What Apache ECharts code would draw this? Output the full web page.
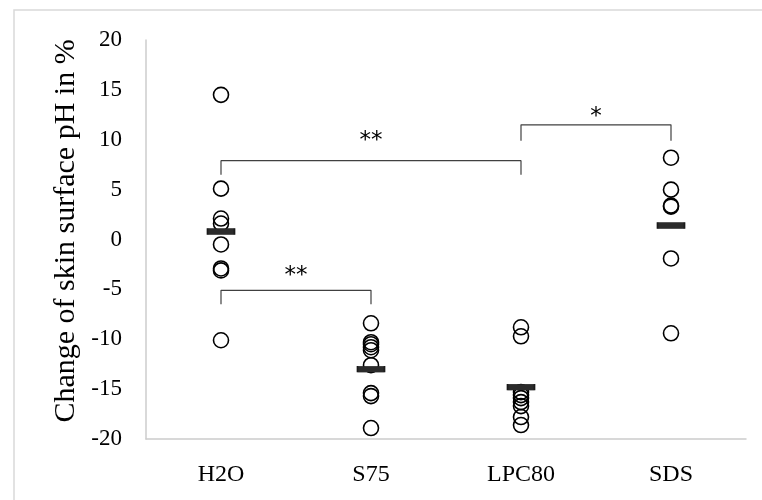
<!DOCTYPE html>
<html>
<head>
<meta charset="utf-8">
<script src="https://cdn.jsdelivr.net/npm/echarts@6/dist/echarts.min.js"></script>
<style>html,body{margin:0;padding:0;background:#fff;}#c{width:762px;height:500px;}</style>
</head>
<body>
<div id="c"></div>
<script>
var categories = ['H2O', 'S75', 'LPC80', 'SDS'];
var h2oValues = [14.5, 5.1, 2.1, 1.6, -0.5, -2.9, -3.1, -10.1];
var s75Values = [-8.4, -10.3, -10.5, -10.8, -11.1, -12.6, -15.4, -15.7, -18.9];
var lpc80Values = [-8.8, -9.7, -15.3, -15.6, -15.9, -16.3, -16.7, -17.8, -18.6];
var sdsValues = [8.2, 5.0, 3.4, 3.3, -1.9, -9.4];
var meanValues = [0.8, -13.0, -14.8, 1.4];
var yTicks = { min: -20, max: 20, interval: 5 };
var yTitle = 'Change of skin surface pH in %';
// significance brackets: [fromCategoryIndex, toCategoryIndex, level, tickBottom, label, labelLevel]
var brackets = [
  [0, 2, 7.9, 6.5, '**', 10.4],
  [0, 1, -5.1, -6.5, '**', -3.2],
  [2, 3, 11.5, 9.9, '*', 12.8]
];

var groups = [h2oValues, s75Values, lpc80Values, sdsValues];
var pointData = [];
groups.forEach(function (vals, i) {
  vals.forEach(function (v) { pointData.push([i, v]); });
});
var meanData = meanValues.map(function (v, i) { return [i, v]; });

var FONT = 'Liberation Serif';
var series = [
  {
    type: 'scatter', data: pointData, symbol: 'circle', symbolSize: 15,
    itemStyle: { color: 'rgba(0,0,0,0)', borderColor: '#000', borderWidth: 1.6, opacity: 1 },
    silent: true, z: 3
  },
  {
    type: 'scatter', data: meanData, symbol: 'rect', symbolSize: [27, 6],
    itemStyle: { color: '#2b2b2b', borderColor: '#1a1a1a', borderWidth: 0.8, opacity: 1 },
    silent: true, z: 4
  }
];
brackets.forEach(function (b) {
  series.push({
    type: 'line', xAxisIndex: 1, yAxisIndex: 0,
    data: [[b[0], b[3]], [b[0], b[2]], [b[1], b[2]], [b[1], b[3]]],
    symbol: 'none', lineStyle: { color: '#404040', width: 1.2 }, silent: true, z: 2
  });
  series.push({
    type: 'scatter', xAxisIndex: 1, yAxisIndex: 0,
    data: [[(b[0] + b[1]) / 2, b[5]]], symbolSize: 1,
    itemStyle: { color: 'rgba(0,0,0,0)' },
    label: { show: true, formatter: b[4], position: 'inside', offset: [0, 5],
      fontFamily: 'DejaVu Sans', fontSize: 23, color: '#000', opacity: 1 },
    emphasis: { disabled: true },
    silent: true, z: 5
  });
});

var chart = echarts.init(document.getElementById('c'), null, { renderer: 'canvas' });
chart.setOption({
  animation: false,
  backgroundColor: '#fff',
  graphic: [{
    type: 'rect', shape: { x: 14, y: 10, width: 800, height: 600 },
    style: { fill: 'none', stroke: '#d9d9d9', lineWidth: 1.5 }, silent: true
  }, {
    type: 'text', x: 66, y: 231, rotation: Math.PI / 2,
    style: { text: yTitle, fontFamily: FONT, fontSize: 30, fill: '#000',
      align: 'center', verticalAlign: 'middle' },
    silent: true
  }],
  grid: { left: 146, right: 16, top: 40, bottom: 61 },
  xAxis: [{
    type: 'category', data: categories, boundaryGap: true,
    axisLine: { onZero: false, lineStyle: { color: '#cccccc', width: 1.5 } },
    axisTick: { show: false },
    axisLabel: { fontFamily: FONT, fontSize: 24, color: '#000', margin: 24 },
    splitLine: { show: false }
  }, {
    type: 'value', min: -0.5, max: 3.5, show: false
  }],
  yAxis: [{
    type: 'value', min: yTicks.min, max: yTicks.max, interval: yTicks.interval,
    axisLine: { show: true, onZero: false, lineStyle: { color: '#cccccc', width: 1.5 } },
    axisTick: { show: false },
    axisLabel: { fontFamily: FONT, fontSize: 23, color: '#000', margin: 24 },
    splitLine: { show: false }
  }],
  series: series
});
</script>
</body>
</html>
